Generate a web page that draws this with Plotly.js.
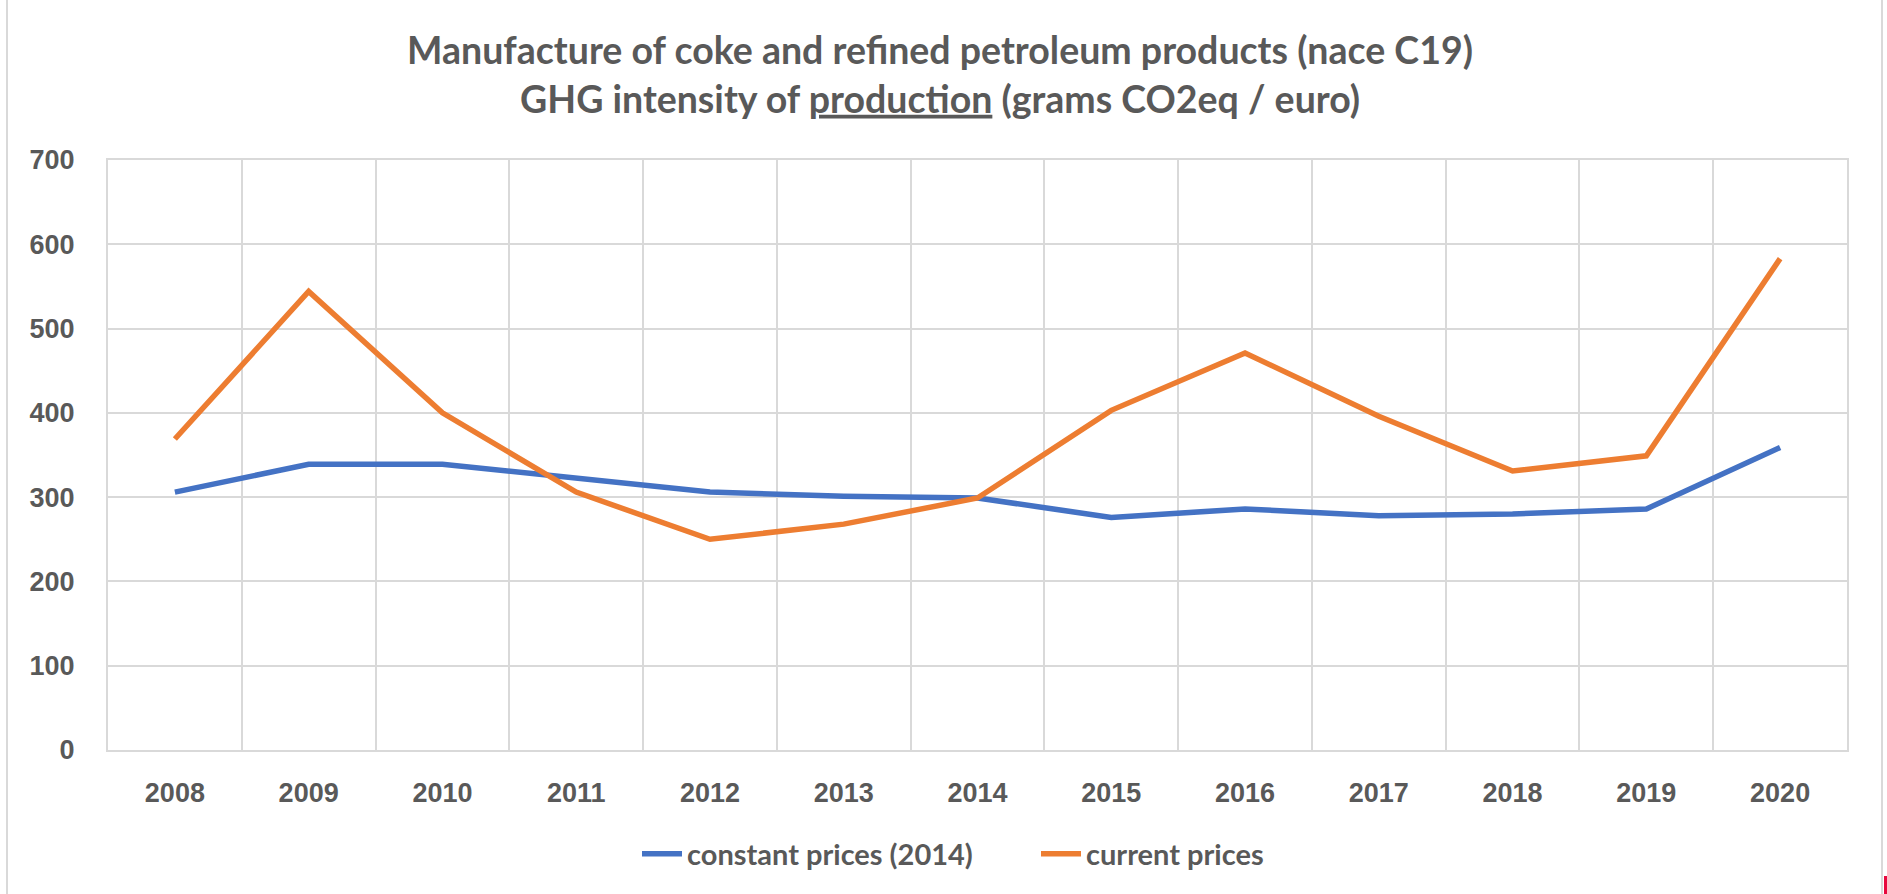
<!DOCTYPE html>
<html>
<head>
<meta charset="utf-8">
<script src="https://cdn.plot.ly/plotly-3.0.1.min.js"></script>
<style>
html,body{margin:0;padding:0;background:#fff;}
#chart{width:1887px;height:894px;}
</style>
</head>
<body>
<div id="chart"></div>
<script>
// Data
const years = [2008, 2009, 2010, 2011, 2012, 2013, 2014, 2015, 2016, 2017, 2018, 2019, 2020];
const yearLabels = ["2008","2009","2010","2011","2012","2013","2014","2015","2016","2017","2018","2019","2020"];
const constantPrices = [306, 339, 339, 323, 306, 301, 299, 276, 286, 278, 280, 286, 359];
const currentPrices = [369, 544, 400, 306, 250, 268, 299, 403, 471, 396, 331, 349, 583];
const seriesNames = ["constant prices (2014)", "current prices"];
const yTicks = [0, 100, 200, 300, 400, 500, 600, 700];

const W = 1887, H = 894;
const mL = 108, mR = 40, mT = 160, mB = 144;
const pw = W - mL - mR, ph = H - mT - mB;
const px = v => (v - mL) / pw;
const py = v => (H - mB - v) / ph;

const traces = [
  {x: years, y: constantPrices, name: seriesNames[0], type: 'scatter', mode: 'lines',
   line: {color: '#4472C4', width: 5.5}},
  {x: years, y: currentPrices, name: seriesNames[1], type: 'scatter', mode: 'lines',
   line: {color: '#ED7D31', width: 5.5}}
];

const tickFont = {family: 'Liberation Sans, Arial, sans-serif', size: 27, color: '#595959', weight: 'bold'};

const layout = {
  width: W, height: H,
  margin: {l: mL, r: mR, t: mT, b: mB, pad: 0, autoexpand: false},
  paper_bgcolor: '#fff', plot_bgcolor: '#fff',
  title: {
    text: 'Manufacture of coke and refined petroleum products (nace C19)<br>GHG intensity of <u>production</u> (grams CO2eq / euro)',
    font: {family: 'Lato, Carlito, Calibri, sans-serif', size: 37.5, color: '#595959', weight: 'bold'},
    x: 940 / W, xref: 'container', xanchor: 'center',
    y: 1 - 64 / H, yref: 'container', yanchor: 'middle'
  },
  xaxis: {
    type: 'linear',
    range: [years[0] - 0.5, years[years.length - 1] + 0.5],
    tickmode: 'array', tickvals: years, ticktext: yearLabels,
    showgrid: false, zeroline: false,
    showline: true, linecolor: '#d9d9d9', linewidth: 2, mirror: true,
    ticks: '', ticklabelstandoff: 18, tickangle: 0,
    tickfont: tickFont,
    minor: {tick0: years[0] - 0.5, dtick: 1, showgrid: true, gridcolor: '#d9d9d9', gridwidth: 2, ticks: ''},
    fixedrange: true
  },
  yaxis: {
    range: [0, 700], tickmode: 'array', tickvals: yTicks,
    showgrid: true, gridcolor: '#d9d9d9', gridwidth: 2,
    zeroline: false, showline: true, linecolor: '#d9d9d9', linewidth: 2, mirror: true,
    ticks: '', ticklabelstandoff: 26,
    tickfont: tickFont,
    fixedrange: true
  },
  showlegend: true,
  legend: {
    orientation: 'h', x: px(637), xanchor: 'left', y: py(854), yanchor: 'middle',
    font: {family: 'Lato, Carlito, Calibri, sans-serif', size: 29, color: '#595959', weight: 'bold'},
    itemwidth: 40, tracegroupgap: 0,
    entrywidth: 344, entrywidthmode: 'pixels'
  },
  shapes: [
    {type: 'line', xref: 'paper', yref: 'paper', x0: px(7), x1: px(7), y0: py(0), y1: py(H), line: {color: '#d9d9d9', width: 2}},
    {type: 'line', xref: 'paper', yref: 'paper', x0: px(1882), x1: px(1882), y0: py(0), y1: py(H), line: {color: '#d9d9d9', width: 2}},
    {type: 'rect', xref: 'paper', yref: 'paper', x0: px(1884), x1: px(1887), y0: py(876), y1: py(894), line: {width: 0}, fillcolor: '#e8083e'}
  ]
};

Plotly.newPlot('chart', traces, layout, {displayModeBar: false, staticPlot: true});
</script>
</body>
</html>
